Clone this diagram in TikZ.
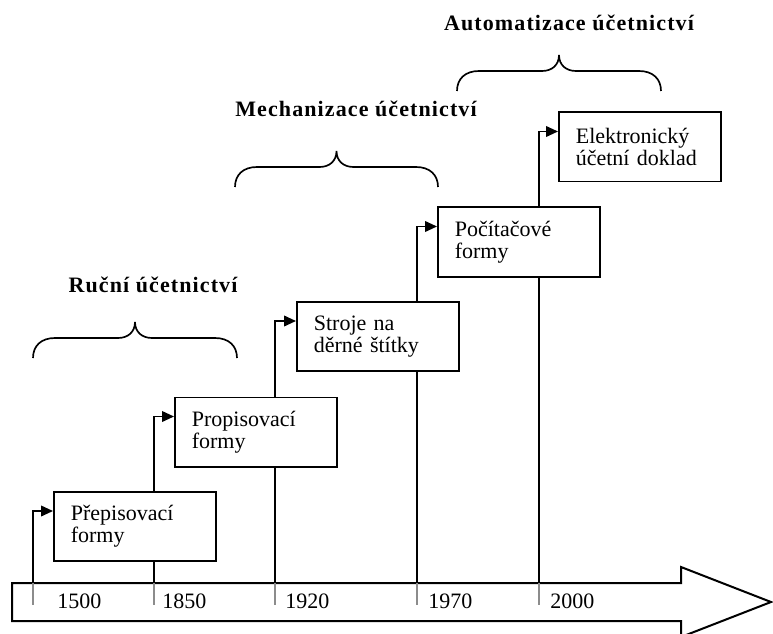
\documentclass[tikz,border=0pt]{standalone}
\usepackage{fontspec}
\setmainfont{Liberation Serif}
\newfontfamily\headfont[LetterSpace=5]{Liberation Serif}
\usetikzlibrary{arrows.meta,backgrounds}

\tikzset{
  stagebox/.style={draw, line width=1.25pt, fill=white, anchor=west, minimum width=121.5pt, minimum height=52pt, text width=96pt, inner xsep=12.75pt, inner ysep=0pt, align=left, font=\fontsize{16.5}{16.8}\selectfont},
  conn/.style={line width=1.25pt, -{Triangle[length=9pt,width=8pt]}},
  tickmark/.style={color=black!45, line width=1.25pt},
  yearlabel/.style={anchor=base west, inner sep=0pt, font=\fontsize{16.5}{16.5}\selectfont},
  eralabel/.style={anchor=base, inner sep=0pt, font=\headfont\bfseries\fontsize{16.5}{16.5}\selectfont},
  erabrace/.style={line width=1.25pt},
}

\begin{document}
\begin{tikzpicture}[x=0.75pt,y=0.75pt,yscale=-1,xscale=1]
\useasboundingbox (0,0) rectangle (773,634);

% Stage boxes
\node[stagebox] (prepis) at (53,526.5) {P\v{r}episovac\'{\i}\\formy};
\node[stagebox] (propis) at (174,432) {Propisovac\'{\i}\\formy};
\node[stagebox] (stroje) at (296,336.5) {Stroje na\\d\v{e}rn\'{e} \v{s}t\'{\i}tky};
\node[stagebox] (pocit) at (437,242) {Po\v{c}\'{\i}ta\v{c}ov\'{e}\\formy};
\node[stagebox] (elektro) at (558,147) {Elektronick\'{y}\\\'{u}\v{c}etn\'{\i} doklad};

% Years
\node[yearlabel] (y1500) at (57,608) {1500};
\node[yearlabel] (y1850) at (162,608) {1850};
\node[yearlabel] (y1920) at (285,608) {1920};
\node[yearlabel] (y1970) at (428,608) {1970};
\node[yearlabel] (y2000) at (550,608) {2000};

% Ticks on the time axis
\coordinate (t1) at (33,583);
\coordinate (t2) at (154,583);
\coordinate (t3) at (275,583);
\coordinate (t4) at (417,583);
\coordinate (t5) at (539,583);

\begin{scope}[on background layer]
% Time axis
\draw[line width=1.5pt] (12,583) -- (681,583) -- (681,567) -- (771,602) -- (681,637) -- (681,621) -- (12,621) -- cycle;
\foreach \t in {t1,t2,t3,t4,t5}
  \draw[tickmark] (\t) -- ++(0,22);
% Connection
\draw[conn] (t1) |- ([yshift=15pt]prepis.north west);
\draw[conn] (t2) |- ([yshift=15pt]propis.north west);
\draw[conn] (t3) |- ([yshift=15pt]stroje.north west);
\draw[conn] (t4) |- ([yshift=15pt]pocit.north west);
\draw[conn] (t5) |- ([yshift=15pt]elektro.north west);
\end{scope}

% Eras
\node[eralabel] (rucni) at (153,292) {Ru\v{c}n\'{\i} \'{u}\v{c}etnictv\'{\i}};
\node[eralabel] (mechan) at (356,117) {Mechanizace \'{u}\v{c}etnictv\'{\i}};
\node[eralabel] (automat) at (569,31) {Automatizace \'{u}\v{c}etnictv\'{\i}};

\foreach \bl/\br/\bb in {33/237/358, 235/438/187, 457/661/91}{
  \pgfmathsetmacro\bm{(\bl+\br)/2}
  \draw[erabrace] (\bl,\bb) .. controls (\bl,{\bb-12}) and ({\bl+8},{\bb-20}) .. ({\bl+22},{\bb-20}) -- ({\bm-17},{\bb-20}) .. controls ({\bm-7},{\bb-20}) and (\bm,{\bb-26}) .. (\bm,{\bb-36}) .. controls (\bm,{\bb-26}) and ({\bm+7},{\bb-20}) .. ({\bm+17},{\bb-20}) -- ({\br-22},{\bb-20}) .. controls ({\br-8},{\bb-20}) and (\br,{\bb-12}) .. (\br,\bb);
}

\end{tikzpicture}
\end{document}
